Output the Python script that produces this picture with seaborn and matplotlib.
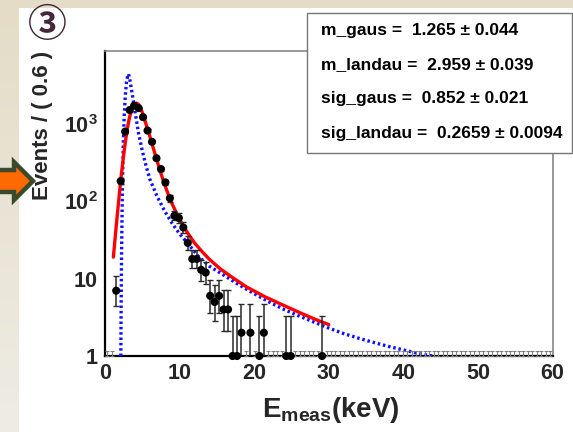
import numpy as np
import matplotlib
matplotlib.use("Agg")
import matplotlib.pyplot as plt
import seaborn as sns
from matplotlib.patches import Rectangle, Polygon
from matplotlib.ticker import MultipleLocator, LogLocator, NullFormatter

# ---------------- data ----------------
bin_width = 0.6
x_limits = (0, 60)
y_limits = (1, 8900)

# non-empty bins (bin centre, events)
bin_centers = [1.5, 2.1, 2.7, 3.3, 3.9, 4.5, 5.1, 5.7, 6.3, 6.9, 7.5, 8.1, 8.7,
               9.3, 9.9, 10.5, 11.1, 11.7, 12.3, 12.9, 13.5, 14.1, 14.7, 15.3,
               15.9, 16.5, 17.1, 17.7, 18.3, 19.5, 20.7, 21.3, 24.3, 24.9, 29.1]
counts = [7, 183, 800, 1520, 1730, 1610, 1230, 825, 590, 362, 262, 176, 110,
          65, 61, 46, 29, 18, 18, 13, 12, 6, 5, 6,
          4, 4, 1, 1, 2, 2, 1, 2, 1, 1, 1]

# fitted model (red, solid)
fit_x = [1.12, 1.35, 1.6, 1.85, 2.1, 2.4, 2.7, 3.0, 3.3, 3.6, 3.9, 4.2, 4.5,
         4.8, 5.1, 5.5, 6.0, 6.5, 7.0, 7.5, 8.0, 8.5, 9.0, 9.6, 10.3, 11.0,
         12.0, 13.0, 14.0, 15.5, 17.0, 19.0, 21.5, 24.0, 26.5, 28.5, 30.0]
fit_y = [19, 33, 60, 105, 185, 330, 560, 880, 1240, 1560, 1780, 1870, 1800,
         1600, 1330, 1000, 700, 480, 330, 230, 165, 122, 93, 70, 52, 40,
         29, 22.5, 17.8, 13.3, 10.5, 7.8, 5.8, 4.5, 3.5, 2.9, 2.55]

# Landau component (blue, dotted)
landau_x = [2.12, 2.17, 2.22, 2.28, 2.36, 2.46, 2.58, 2.72, 2.88, 3.05, 3.15,
            3.3, 3.5, 3.8, 4.1, 4.5, 5.0, 5.5, 6.0, 6.5, 7.0, 8.0, 9.0, 10.0,
            11.0, 12.5, 14.0, 16.0, 18.0, 20.0, 22.0, 24.0, 26.0, 28.0, 30.0,
            32.0, 34.0, 36.0, 38.0, 40.0, 42.0, 43.9]
landau_y = [1.0, 5, 20, 60, 200, 600, 1300, 2300, 3500, 4300, 4450,
            3900, 3000, 2000, 1300, 760, 450, 290, 195, 150, 115, 75, 52, 38,
            29.5, 19.5, 14.5, 11, 8.3, 6.4, 5.0, 4.0, 3.3, 2.75, 2.3,
            1.95, 1.7, 1.5, 1.33, 1.2, 1.08, 1.0]

x_ticks = [0, 10, 20, 30, 40, 50, 60]
y_ticks = [1, 10, 100, 1000]
y_tick_labels = [r"$\mathbf{1}$", r"$\mathbf{10}$", r"$\mathbf{10^{2}}$", r"$\mathbf{10^{3}}$"]

param_lines = ["m_gaus =  1.265 ± 0.044",
               "m_landau =  2.959 ± 0.039",
               "sig_gaus =  0.852 ± 0.021",
               "sig_landau =  0.2659 ± 0.0094"]

x_label = r"$\mathbf{E_{meas}(keV)}$"
y_label = "Events / ( 0.6 )"
badge = "③"

# ---------------- style ----------------
sns.set_style("white")
plt.rcParams["font.family"] = ["Liberation Sans", "DejaVu Sans"]
plt.rcParams["mathtext.fontset"] = "custom"
plt.rcParams["mathtext.rm"] = "Liberation Sans"
plt.rcParams["mathtext.bf"] = "Liberation Sans:bold"
plt.rcParams["mathtext.it"] = "Liberation Sans:italic"

W, H = 573, 432
fig = plt.figure(figsize=(W / 100, H / 100), dpi=100)

def fx(px):
    return px / W

def fy(py):
    return 1 - py / H

# slide background (beige gradient) and white panel
bg = fig.add_axes([0, 0, 1, 1], zorder=-10)
bg.axis("off")
top_c = np.array([228, 220, 198]) / 255
bot_c = np.array([238, 236, 228]) / 255
t = np.linspace(0, 1, 200)[:, None]
grad = (top_c[None, :] * (1 - t) + bot_c[None, :] * t)[:, None, :]
grad = np.repeat(grad, 2, axis=1)
bg.imshow(grad, extent=[0, 1, 0, 1], aspect="auto")
bg.set_xlim(0, 1)
bg.set_ylim(0, 1)
fig.patches.append(Rectangle((fx(19), 0), 1 - fx(19), fy(8), transform=fig.transFigure,
                             facecolor="white", edgecolor="none", zorder=-5))

# main axes
ax = fig.add_axes([fx(105), fy(356), (552.5 - 105) / W, (356 - 50.7) / H])
ax.set_facecolor("white")

# curves
sns.lineplot(x=landau_x, y=landau_y, ax=ax, color="#1010ff", lw=2.4, sort=False,
             estimator=None, linestyle=(0, (0.75, 0.85)), zorder=3)
sns.lineplot(x=fit_x, y=fit_y, ax=ax, color="#ff0000", lw=2.4, sort=False,
             estimator=None, zorder=4)

# Poisson error bars (Gehrels approximation) for non-empty bins
c = np.array(counts, dtype=float)
hi = c + np.sqrt(c + 0.75) + 1.0
lo = c * (1 - 1 / (9 * c) - 1 / (3 * np.sqrt(c))) ** 3
ax.errorbar(bin_centers, c, yerr=[c - lo, hi - c], fmt="none", ecolor="#2a2a2a",
            elinewidth=1.1, capsize=2.2, capthick=1.0, zorder=5)

# empty bins: upper limit 1.148
all_centers = np.round(np.arange(x_limits[0] + bin_width / 2, x_limits[1], bin_width), 2)
empty = [v for v in all_centers if not any(abs(v - b) < 1e-6 for b in bin_centers)]
ax.errorbar(empty, np.ones(len(empty)), yerr=[np.zeros(len(empty)), np.full(len(empty), 0.148)],
            fmt="none", ecolor="#808080", elinewidth=0.8, capsize=1.5, capthick=0.8,
            zorder=5, clip_on=False)

sns.scatterplot(x=bin_centers, y=counts, ax=ax, color="black", s=34, edgecolor="none",
                zorder=6, clip_on=False)

# axes
ax.set_yscale("log")
ax.set_xlim(*x_limits)
ax.set_ylim(*y_limits)
ax.set_xticks(x_ticks)
ax.set_xticklabels([str(v) for v in x_ticks])
ax.set_yticks(y_ticks)
ax.set_yticklabels(y_tick_labels)
ax.xaxis.set_minor_locator(MultipleLocator(2))
ax.yaxis.set_minor_locator(LogLocator(base=10, subs=range(2, 10)))
ax.yaxis.set_minor_formatter(NullFormatter())

ax.tick_params(axis="both", which="both", direction="in", top=False, right=False,
               color="#333333", width=1.0)
ax.tick_params(axis="y", which="major", length=9, pad=5)
ax.tick_params(axis="y", which="minor", length=4.5)
ax.tick_params(axis="x", which="major", length=6.5, pad=5)
ax.tick_params(axis="x", which="minor", length=3.5)
for lab in ax.get_xticklabels() + ax.get_yticklabels():
    lab.set_fontsize(15.5)
    lab.set_fontweight("bold")

for side in ["left", "bottom"]:
    ax.spines[side].set_color("black")
    ax.spines[side].set_linewidth(1.6)
for side in ["top", "right"]:
    ax.spines[side].set_color("#888888")
    ax.spines[side].set_linewidth(1.2)

ax.set_xlabel(x_label, fontsize=20)
ax.xaxis.set_label_coords((331 - 105) / 447.5, (356 - 410) / 305.3)
ax.xaxis.label.set_va("center")
ax.set_ylabel(y_label, fontsize=16, fontweight="bold")
ax.yaxis.set_label_coords((43 - 105) / 447.5, (356 - 125) / 305.3)
ax.yaxis.label.set_va("center")
ax.yaxis.label.set_ha("center")

# parameter box
fig.patches.append(Rectangle((fx(307), fy(153)), fx(571.5) - fx(307), fy(13) - fy(153),
                             transform=fig.transFigure, facecolor="white",
                             edgecolor="#777777", linewidth=1.0, zorder=10))
for i, txt in enumerate(param_lines):
    fig.text(fx(321), fy(30 + i * 34.5), txt, fontsize=12.5, fontweight="bold",
             color="black", ha="left", va="center", zorder=11)

# badge and arrow
fig.text(fx(47), fy(25), badge, family=["Noto Sans CJK JP", "DejaVu Sans"], fontsize=28,
         fontweight="bold", color="#43283A", ha="center", va="center", zorder=11)

arrow_px = [(-5, 170), (14, 170), (14, 162), (33, 181), (14, 200), (14, 192), (-5, 192)]
fig.patches.append(Polygon([(fx(x), fy(y)) for x, y in arrow_px], closed=True,
                           transform=fig.transFigure, facecolor="#FF6A00",
                           edgecolor="#3A4A2A", linewidth=3.2, joinstyle="miter", zorder=-4))

fig.savefig("out.png", dpi=100)
